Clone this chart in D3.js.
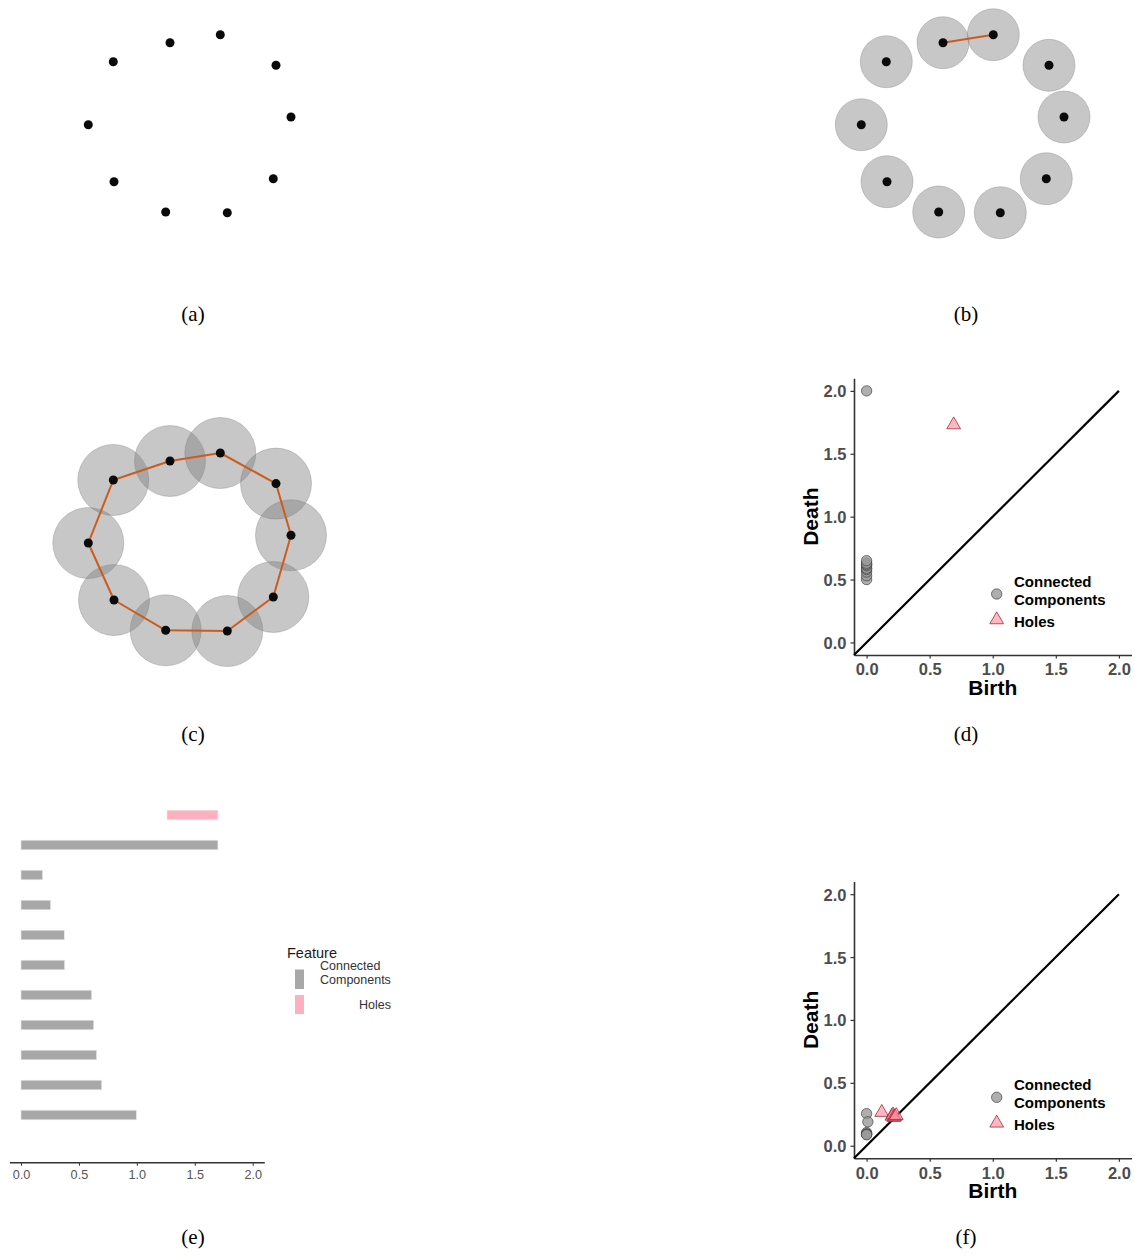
<!DOCTYPE html>
<html>
<head>
<meta charset="utf-8">
<script src="https://cdn.jsdelivr.net/npm/d3@7"></script>
<style>
  html, body { margin: 0; padding: 0; background: #fff; }
  svg { display: block; }
</style>
</head>
<body>
<svg id="fig" width="1135" height="1258"></svg>
<script>
// ---- point cloud (unit-circle sample) ----
const cloudX = [-0.767, -0.200, 0.303, 0.860, 1.010, 0.833, 0.373, -0.243, -0.760, -1.017];
const cloudY = [0.623, 0.813, 0.893, 0.587, 0.070, -0.547, -0.887, -0.880, -0.577, -0.007];

// ball radii and edges at the two filtration steps
const ballRadiusB = 0.26;
const ballRadiusC = 0.355;
const edgesB = [[1, 2]];
const edgesC = [[0, 1], [1, 2], [2, 3], [3, 4], [4, 5], [5, 6], [6, 7], [7, 8], [8, 9], [9, 0]];

// ---- persistence diagram (d) ----
const compBirthD = [0, 0, 0, 0, 0, 0, 0, 0, 0, 0];
const compDeathD = [2.0, 0.50, 0.53, 0.56, 0.58, 0.59, 0.61, 0.62, 0.63, 0.65];
const holeBirthD = [0.69];
const holeDeathD = [1.73];

// ---- persistence diagram (f) ----
const compBirthF = [0, 0.01, 0, 0, 0, 0];
const compDeathF = [0.255, 0.19, 0.105, 0.095, 0.09, 0.087];
const holeBirthF = [0.12, 0.20, 0.21, 0.215, 0.225, 0.235];
const holeDeathF = [0.265, 0.235, 0.245, 0.225, 0.23, 0.24];

// ---- barcode (e) ----
const barFeature = ["Holes", "Connected Components", "Connected Components", "Connected Components",
  "Connected Components", "Connected Components", "Connected Components", "Connected Components",
  "Connected Components", "Connected Components", "Connected Components"];
const barStart = [1.26, 0, 0, 0, 0, 0, 0, 0, 0, 0, 0];
const barEnd = [1.70, 1.70, 0.187, 0.256, 0.374, 0.377, 0.61, 0.628, 0.653, 0.697, 0.996];

const diagTicks = [0, 0.5, 1.0, 1.5, 2.0];
const panelLabels = ["(a)", "(b)", "(c)", "(d)", "(e)", "(f)"];

const SANS = "'Liberation Sans', Arial, Helvetica, sans-serif";
const SERIF = "'Liberation Serif', 'Times New Roman', Times, serif";
const EDGE = "#cc5c1c";

const svg = d3.select("#fig");

// ---------- point cloud panels ----------
function cloudPanel(cx, cy, radius, edges) {
  const x = d3.scaleLinear().domain([-1.5, 1.5]).range([cx - 150, cx + 150]);
  const y = d3.scaleLinear().domain([-1.5, 1.5]).range([cy + 150, cy - 150]);
  const g = svg.append("g");
  const pts = cloudX.map((v, i) => ({ x: v, y: cloudY[i] }));
  if (radius > 0) {
    const rpx = x(radius) - x(0);
    g.selectAll("circle.ball").data(pts).join("circle")
      .attr("class", "ball")
      .attr("cx", d => x(d.x)).attr("cy", d => y(d.y)).attr("r", rpx)
      .attr("fill", "#808080").attr("fill-opacity", 0.44)
      .attr("stroke", "#7a7a7a").attr("stroke-opacity", 0.35).attr("stroke-width", 1);
  }
  g.selectAll("line.edge").data(edges).join("line")
    .attr("class", "edge")
    .attr("x1", d => x(pts[d[0]].x)).attr("y1", d => y(pts[d[0]].y))
    .attr("x2", d => x(pts[d[1]].x)).attr("y2", d => y(pts[d[1]].y))
    .attr("stroke", EDGE).attr("stroke-width", 2);
  g.selectAll("circle.pt").data(pts).join("circle")
    .attr("class", "pt")
    .attr("cx", d => x(d.x)).attr("cy", d => y(d.y)).attr("r", 4.5)
    .attr("fill", "#0a0a0a");
}

cloudPanel(190, 124, 0, []);
cloudPanel(963, 124, ballRadiusB, edgesB);
cloudPanel(190, 542.3, ballRadiusC, edgesC);

// ---------- persistence diagrams ----------
const compStyle = sel => sel
  .attr("fill", "#9a9a9a").attr("fill-opacity", 0.8)
  .attr("stroke", "#3a3a3a").attr("stroke-opacity", 0.65).attr("stroke-width", 1);
const holeStyle = sel => sel
  .attr("fill", "#ff8c9c").attr("fill-opacity", 0.62)
  .attr("stroke", "#a82838").attr("stroke-opacity", 0.8).attr("stroke-width", 1);

function diagram(top, cb, cd, hb, hd) {
  const left = 854, right = 1131.5, bottom = top + 276.7;
  const x = d3.scaleLinear().domain([-0.1, 2.1]).range([left, right]);
  const y = d3.scaleLinear().domain([-0.1, 2.1]).range([bottom, top]);
  const g = svg.append("g");

  // axes
  const yAxis = d3.axisLeft(y).tickValues(diagTicks).tickFormat(d3.format(".1f"))
    .tickSizeInner(3.5).tickSizeOuter(0).tickPadding(4);
  const xAxis = d3.axisBottom(x).tickValues(diagTicks).tickFormat(d3.format(".1f"))
    .tickSizeInner(3.5).tickSizeOuter(0).tickPadding(4);
  const ga = g.append("g").attr("transform", `translate(${left},0)`).call(yAxis);
  const gb = g.append("g").attr("transform", `translate(0,${bottom})`).call(xAxis);
  [ga, gb].forEach(a => {
    a.select(".domain").attr("stroke", "#333").attr("stroke-width", 1.6);
    a.selectAll(".tick line").attr("stroke", "#333").attr("stroke-width", 1.2);
    a.selectAll(".tick text").attr("fill", "#4d4d4d").attr("font-family", SANS)
      .attr("font-weight", "bold").attr("font-size", 16.5);
  });
  ga.selectAll(".tick text").attr("dy", "0.36em");
  gb.selectAll(".tick text").attr("dy", "0.78em");

  // diagonal
  g.append("line")
    .attr("x1", x(-0.1)).attr("y1", y(-0.1)).attr("x2", x(2.0)).attr("y2", y(2.0))
    .attr("stroke", "#000").attr("stroke-width", 2.2);

  // points
  const comps = cb.map((b, i) => ({ b, d: cd[i] }));
  g.selectAll("circle.comp").data(comps).join("circle")
    .attr("class", "comp")
    .attr("cx", d => x(d.b)).attr("cy", d => y(d.d)).attr("r", 5.2)
    .call(compStyle);
  const holes = hb.map((b, i) => ({ b, d: hd[i] }));
  const tri = d3.symbol(d3.symbolTriangle, 82);
  g.selectAll("path.hole").data(holes).join("path")
    .attr("class", "hole")
    .attr("transform", d => `translate(${x(d.b)},${y(d.d)})`)
    .attr("d", tri)
    .call(holeStyle);

  // axis titles
  g.append("text").attr("x", (left + right) / 2).attr("y", bottom + 40)
    .attr("text-anchor", "middle").attr("font-family", SANS).attr("font-weight", "bold")
    .attr("font-size", 21).attr("fill", "#000").text("Birth");
  g.append("text")
    .attr("transform", `translate(818,${(top + bottom) / 2}) rotate(-90)`)
    .attr("text-anchor", "middle").attr("font-family", SANS).attr("font-weight", "bold")
    .attr("font-size", 21).attr("fill", "#000").text("Death");

  // legend
  const lg = g.append("g").attr("transform", `translate(0,${top})`);
  lg.append("circle").attr("cx", 996.7).attr("cy", 215.7).attr("r", 5.2).call(compStyle);
  lg.append("path").attr("transform", "translate(996.7,241.5)").attr("d", tri).call(holeStyle);
  const lt = [["Connected", 208.4], ["Components", 226.7], ["Holes", 248.4]];
  lg.selectAll("text").data(lt).join("text")
    .attr("x", 1014).attr("y", d => d[1])
    .attr("font-family", SANS).attr("font-weight", "bold").attr("font-size", 15)
    .attr("fill", "#000").text(d => d[0]);
}

diagram(378.3, compBirthD, compDeathD, holeBirthD, holeDeathD);
diagram(881.6, compBirthF, compDeathF, holeBirthF, holeDeathF);

// ---------- barcode ----------
(function barcode() {
  const x = d3.scaleLinear().domain([-0.1, 2.1]).range([9.4, 264.3]);
  const y = d3.scaleBand().domain(d3.range(barEnd.length)).range([800, 1130]).paddingInner(0.68).paddingOuter(0.34);
  const color = d3.scaleOrdinal().domain(["Connected Components", "Holes"]).range(["#a8a8a8", "#ffb0c0"]);
  const g = svg.append("g");
  const bars = barEnd.map((e, i) => ({ s: barStart[i], e, f: barFeature[i], i }));
  g.selectAll("rect.bar").data(bars).join("rect")
    .attr("class", "bar")
    .attr("x", d => x(d.s)).attr("width", d => x(d.e) - x(d.s))
    .attr("y", d => y(d.i)).attr("height", y.bandwidth())
    .attr("fill", d => color(d.f))
    .attr("stroke", "#ececec").attr("stroke-width", 0.6);

  const axis = d3.axisBottom(x).tickValues(diagTicks).tickFormat(d3.format(".1f"))
    .tickSizeInner(3.5).tickSizeOuter(0).tickPadding(4);
  const ga = g.append("g").attr("transform", "translate(0,1162.3)").call(axis);
  ga.select(".domain").attr("stroke", "#333").attr("stroke-width", 1.5);
  ga.selectAll(".tick line").attr("stroke", "#333");
  ga.selectAll(".tick text").attr("fill", "#555").attr("font-family", SANS).attr("font-size", 12.7).attr("dy", "0.72em");

  // legend
  const lg = g.append("g");
  lg.append("text").attr("x", 287).attr("y", 957.5).attr("font-family", SANS).attr("font-size", 14.5)
    .attr("fill", "#1a1a1a").text("Feature");
  lg.append("rect").attr("x", 295).attr("y", 969.5).attr("width", 9).attr("height", 19.5).attr("fill", color("Connected Components"));
  lg.append("rect").attr("x", 295).attr("y", 995).attr("width", 9).attr("height", 19).attr("fill", color("Holes"));
  lg.append("text").attr("x", 320).attr("y", 970).attr("font-family", SANS).attr("font-size", 12.5).attr("fill", "#333").text("Connected");
  lg.append("text").attr("x", 320).attr("y", 984).attr("font-family", SANS).attr("font-size", 12.5).attr("fill", "#333").text("Components");
  lg.append("text").attr("x", 391).attr("y", 1009).attr("text-anchor", "end").attr("font-family", SANS).attr("font-size", 12.5).attr("fill", "#333").text("Holes");
})();

// ---------- panel captions ----------
const capPos = [[193, 321], [966, 321], [193, 741], [966, 741], [193, 1244], [966, 1244]];
svg.selectAll("text.cap").data(panelLabels).join("text")
  .attr("class", "cap")
  .attr("x", (d, i) => capPos[i][0]).attr("y", (d, i) => capPos[i][1])
  .attr("text-anchor", "middle").attr("font-family", SERIF).attr("font-size", 21)
  .attr("fill", "#000").text(d => d);
</script>
</body>
</html>
